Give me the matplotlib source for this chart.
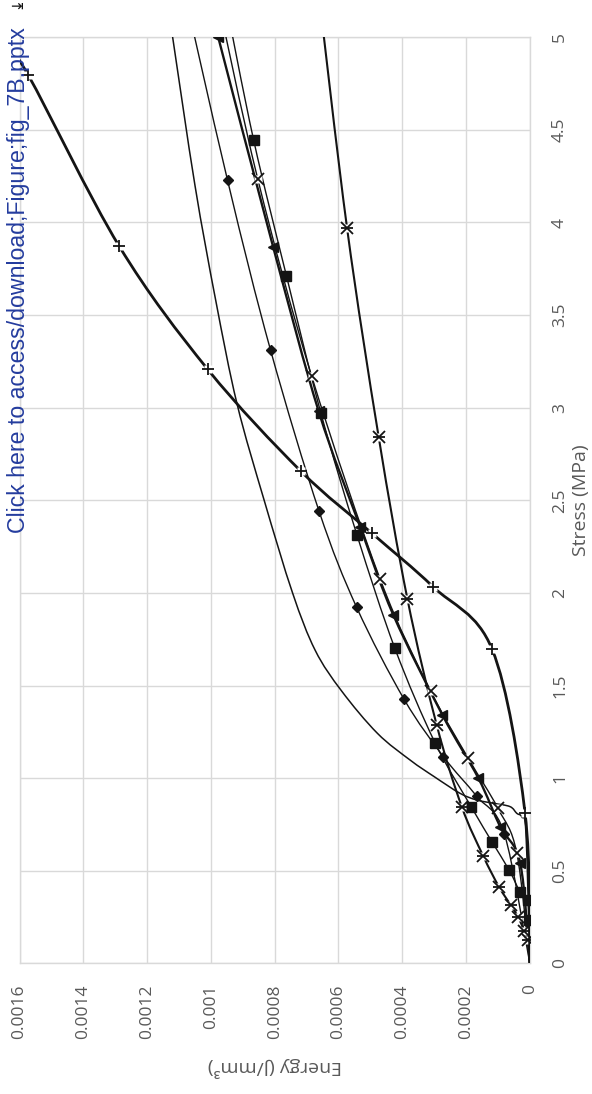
"""Energy vs stress curves, drawn in a portrait (rotated) layout."""

import numpy as np
import matplotlib

matplotlib.use("Agg")
import matplotlib.pyplot as plt
from matplotlib.path import Path
from matplotlib.patches import PathPatch

# stress in MPa, energy in J/mm^3
plus_stress = [0.0, 0.813, 1.695, 2.034, 2.322, 2.659, 3.207, 3.873, 4.796, 5.0]
plus_energy = [0.0, 1.5e-5, 1.18e-4, 3.04e-4, 4.95e-4, 7.19e-4, 1.01e-3, 1.288e-3, 1.573e-3, 1.66e-3]

star_stress = [0.0, 0.126, 0.176, 0.248, 0.315, 0.414, 0.579, 0.846, 1.287, 1.969, 2.843, 3.969, 5.30]
star_energy = [0.0, 4.7e-6, 1.8e-5, 3.6e-5, 6.0e-5, 9.7e-5, 1.46e-4, 2.135e-4, 2.92e-4, 3.84e-4, 4.74e-4,
               5.73e-4, 6.66e-4]

cross_stress = [0.0, 0.597, 0.837, 1.107, 1.471, 2.073, 3.170, 4.234, 5.30]
cross_energy = [0.0, 4.1e-5, 1.0e-4, 1.93e-4, 3.11e-4, 4.69e-4, 6.84e-4, 8.53e-4, 9.9e-4]

square_stress = [0.0, 0.234, 0.342, 0.387, 0.504, 0.657, 0.846, 1.19, 1.70, 2.313, 2.97, 3.711, 4.445, 5.25]
square_energy = [0.0, 1.6e-6, 6.6e-6, 3.07e-5, 6.5e-5, 1.19e-4, 1.84e-4, 2.97e-4, 4.23e-4, 5.42e-4, 6.55e-4,
                 7.63e-4, 8.66e-4, 9.6e-4]

tri_stress = [0.0, 0.54, 0.738, 0.999, 1.341, 1.881, 2.357, 2.98, 3.869, 5.0]
tri_energy = [0.0, 3.0e-5, 9.3e-5, 1.61e-4, 2.74e-4, 4.28e-4, 5.32e-4, 6.62e-4, 8.05e-4, 9.77e-4]

diamond_stress = [0.0, 0.70, 0.903, 1.116, 1.425, 1.922, 2.442, 3.311, 4.229, 5.45]
diamond_energy = [0.0, 8.0e-5, 1.67e-4, 2.71e-4, 3.94e-4, 5.43e-4, 6.61e-4, 8.13e-4, 9.48e-4, 1.11e-3]

plain_stress = [0.0, 0.70, 0.79, 0.81, 0.846, 0.864, 0.882, 0.918, 1.008, 1.097, 1.242, 1.47, 1.69, 2.0,
                2.5, 3.02, 3.58, 4.2, 5.0]
plain_energy = [0.0, 1.2e-5, 2.5e-5, 4.1e-5, 6.2e-5, 1.14e-4, 1.67e-4, 2.19e-4, 3.0e-4, 3.75e-4, 4.78e-4,
                5.9e-4, 6.73e-4, 7.44e-4, 8.33e-4, 9.18e-4, 9.85e-4, 1.05e-3, 1.12e-3]

energy_ticks = [0, 0.0002, 0.0004, 0.0006, 0.0008, 0.001, 0.0012, 0.0014, 0.0016]
energy_labels = ["0", "0.0002", "0.0004", "0.0006", "0.0008", "0.001", "0.0012", "0.0014", "0.0016"]
stress_ticks = [0, 0.5, 1, 1.5, 2, 2.5, 3, 3.5, 4, 4.5, 5]
stress_labels = ["0", "0.5", "1", "1.5", "2", "2.5", "3", "3.5", "4", "4.5", "5"]

INK = "#141414"
GRID = "#d9d9d9"
LABEL = "#595959"
FONT = "Open Sans"


def _smooth_path(x, y, tension=1.0 / 6.0):
    """Catmull-Rom style Bezier path through the given points."""
    pts = np.column_stack([np.asarray(x, float), np.asarray(y, float)])
    n = len(pts)
    verts = [pts[0]]
    codes = [Path.MOVETO]
    for i in range(n - 1):
        p0 = pts[max(i - 1, 0)]
        p1 = pts[i]
        p2 = pts[i + 1]
        p3 = pts[min(i + 2, n - 1)]
        verts += [p1 + (p2 - p0) * tension, p2 - (p3 - p1) * tension, p2]
        codes += [Path.CURVE4] * 3
    return Path(verts, codes)


def _curve(ax, energy, stress, lw, z):
    patch = PathPatch(_smooth_path(energy, stress), fill=False, edgecolor=INK, linewidth=lw,
                      capstyle="round", joinstyle="round", zorder=z)
    ax.add_patch(patch)


def _open_marks(ax, energy, stress, markers, size, z, backing=6.0):
    """Open markers with a white backing, like the spreadsheet default."""
    ax.plot(energy[1:], stress[1:], ls="none", marker="s", ms=backing, mfc="white", mec="none", zorder=z)
    for m in markers:
        ax.plot(energy[1:], stress[1:], ls="none", marker=m, ms=size, mec=INK, mew=1.3, zorder=z + 0.1)


fig = plt.figure(figsize=(5.92, 10.94), dpi=100)
ax = fig.add_axes([19.6 / 592, 130.7 / 1094, (529.8 - 19.6) / 592, (963.3 - 37.3) / 1094])
ax.set_xlim(0.0016, 0.0)
ax.set_ylim(0.0, 5.0)

_curve(ax, plain_energy, plain_stress, 1.1, 3)
_curve(ax, diamond_energy, diamond_stress, 1.0, 3)
ax.plot(diamond_energy[1:], diamond_stress[1:], ls="none", marker="D", ms=5, color=INK, zorder=4)
_curve(ax, square_energy, square_stress, 1.0, 3)
ax.plot(square_energy[1:], square_stress[1:], ls="none", marker="s", ms=7.5, color=INK, zorder=4)
_curve(ax, tri_energy, tri_stress, 1.7, 3)
ax.plot(tri_energy[1:], tri_stress[1:], ls="none", marker="<", ms=6.5, color=INK, zorder=4)
_curve(ax, cross_energy, cross_stress, 1.0, 3)
_open_marks(ax, cross_energy, cross_stress, ["x"], 8.5, 5)
_curve(ax, star_energy, star_stress, 1.5, 3)
_open_marks(ax, star_energy, star_stress, ["x", "_"], 8.0, 5)
_curve(ax, plus_energy, plus_stress, 2.0, 6)
_open_marks(ax, plus_energy, plus_stress, ["+"], 8.0, 7)

ax.set_xticks(energy_ticks)
ax.set_xticklabels(energy_labels, rotation=90, family=FONT, fontsize=12.5, color=LABEL)
ax.yaxis.tick_right()
ax.set_yticks(stress_ticks)
ax.set_yticklabels(stress_labels, rotation=90, family=FONT, fontsize=12.5, color=LABEL, va="center")
ax.tick_params(axis="x", length=0, pad=15)
ax.tick_params(axis="y", length=0, pad=16)

ax.grid(True, color=GRID, linewidth=1.0, zorder=0)
ax.set_axisbelow(True)
for spine in ax.spines.values():
    spine.set_color(GRID)
    spine.set_linewidth(1.0)

ax.set_xlabel("Energy (J/mm³)", rotation=180, family=FONT, fontsize=14, color=LABEL, labelpad=13)
ax.yaxis.set_label_position("right")
ax.set_ylabel("Stress (MPa)", rotation=90, family=FONT, fontsize=14, color=LABEL, labelpad=3)

fig.text(19 / 592, 1 - 533 / 1094, "Click here to access/download;Figure;fig_7B.pptx", rotation=90,
         family="Liberation Sans", fontsize=16.7, color="#243c9e", ha="center", va="bottom")
fig.text(10 / 592, 1 - 6 / 1094, "⇥", family="DejaVu Sans", fontsize=11, color=INK, ha="left", va="center")

fig.savefig("out.png", dpi=100)
